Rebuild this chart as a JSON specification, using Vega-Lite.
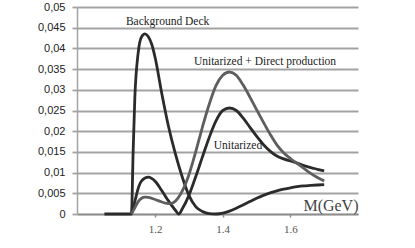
{
  "$schema": "https://vega.github.io/schema/vega-lite/v6.json",
  "width": 281,
  "height": 207,
  "autosize": "none",
  "padding": {"left": 77, "top": 7, "right": 57, "bottom": 34},
  "background": "white",
  "config": {"view": {"stroke": null}},
  "datasets": {
    "curves": [
      {"M": 1.05, "value": 0, "series": "Background Deck"},
      {"M": 1.13, "value": 0, "series": "Background Deck"},
      {"M": 1.135, "value": 0.015, "series": "Background Deck"},
      {"M": 1.14, "value": 0.028, "series": "Background Deck"},
      {"M": 1.15, "value": 0.039, "series": "Background Deck"},
      {"M": 1.16, "value": 0.0428, "series": "Background Deck"},
      {"M": 1.17, "value": 0.0435, "series": "Background Deck"},
      {"M": 1.18, "value": 0.0428, "series": "Background Deck"},
      {"M": 1.19, "value": 0.041, "series": "Background Deck"},
      {"M": 1.2, "value": 0.0378, "series": "Background Deck"},
      {"M": 1.22, "value": 0.029, "series": "Background Deck"},
      {"M": 1.24, "value": 0.021, "series": "Background Deck"},
      {"M": 1.26, "value": 0.0145, "series": "Background Deck"},
      {"M": 1.28, "value": 0.009, "series": "Background Deck"},
      {"M": 1.3, "value": 0.0045, "series": "Background Deck"},
      {"M": 1.32, "value": 0.0018, "series": "Background Deck"},
      {"M": 1.34, "value": 0.0006, "series": "Background Deck"},
      {"M": 1.36, "value": 0.0001, "series": "Background Deck"},
      {"M": 1.38, "value": 0.0, "series": "Background Deck"},
      {"M": 1.4, "value": 0.0002, "series": "Background Deck"},
      {"M": 1.42, "value": 0.0007, "series": "Background Deck"},
      {"M": 1.44, "value": 0.0014, "series": "Background Deck"},
      {"M": 1.46, "value": 0.0022, "series": "Background Deck"},
      {"M": 1.48, "value": 0.003, "series": "Background Deck"},
      {"M": 1.5, "value": 0.0038, "series": "Background Deck"},
      {"M": 1.52, "value": 0.0045, "series": "Background Deck"},
      {"M": 1.54, "value": 0.0051, "series": "Background Deck"},
      {"M": 1.56, "value": 0.0056, "series": "Background Deck"},
      {"M": 1.58, "value": 0.006, "series": "Background Deck"},
      {"M": 1.6, "value": 0.0063, "series": "Background Deck"},
      {"M": 1.62, "value": 0.0066, "series": "Background Deck"},
      {"M": 1.64, "value": 0.0068, "series": "Background Deck"},
      {"M": 1.66, "value": 0.0069, "series": "Background Deck"},
      {"M": 1.68, "value": 0.007, "series": "Background Deck"},
      {"M": 1.7, "value": 0.0071, "series": "Background Deck"},

      {"M": 1.13, "value": 0, "series": "Unitarized"},
      {"M": 1.14, "value": 0.003, "series": "Unitarized"},
      {"M": 1.15, "value": 0.0062, "series": "Unitarized"},
      {"M": 1.16, "value": 0.008, "series": "Unitarized"},
      {"M": 1.18, "value": 0.0089, "series": "Unitarized"},
      {"M": 1.2, "value": 0.0079, "series": "Unitarized"},
      {"M": 1.22, "value": 0.0056, "series": "Unitarized"},
      {"M": 1.24, "value": 0.0031, "series": "Unitarized"},
      {"M": 1.26, "value": 0.0009, "series": "Unitarized"},
      {"M": 1.27, "value": 0.0, "series": "Unitarized"},
      {"M": 1.28, "value": 0.0012, "series": "Unitarized"},
      {"M": 1.3, "value": 0.0045, "series": "Unitarized"},
      {"M": 1.32, "value": 0.009, "series": "Unitarized"},
      {"M": 1.34, "value": 0.0138, "series": "Unitarized"},
      {"M": 1.36, "value": 0.0185, "series": "Unitarized"},
      {"M": 1.38, "value": 0.0225, "series": "Unitarized"},
      {"M": 1.4, "value": 0.025, "series": "Unitarized"},
      {"M": 1.42, "value": 0.0256, "series": "Unitarized"},
      {"M": 1.44, "value": 0.025, "series": "Unitarized"},
      {"M": 1.46, "value": 0.0232, "series": "Unitarized"},
      {"M": 1.48, "value": 0.021, "series": "Unitarized"},
      {"M": 1.5, "value": 0.0188, "series": "Unitarized"},
      {"M": 1.52, "value": 0.0168, "series": "Unitarized"},
      {"M": 1.54, "value": 0.0152, "series": "Unitarized"},
      {"M": 1.56, "value": 0.014, "series": "Unitarized"},
      {"M": 1.58, "value": 0.0133, "series": "Unitarized"},
      {"M": 1.6, "value": 0.0128, "series": "Unitarized"},
      {"M": 1.62, "value": 0.0123, "series": "Unitarized"},
      {"M": 1.64, "value": 0.0117, "series": "Unitarized"},
      {"M": 1.66, "value": 0.0112, "series": "Unitarized"},
      {"M": 1.68, "value": 0.0108, "series": "Unitarized"},
      {"M": 1.7, "value": 0.0104, "series": "Unitarized"},

      {"M": 1.13, "value": 0, "series": "Unitarized + Direct production"},
      {"M": 1.14, "value": 0.0015, "series": "Unitarized + Direct production"},
      {"M": 1.15, "value": 0.003, "series": "Unitarized + Direct production"},
      {"M": 1.16, "value": 0.0038, "series": "Unitarized + Direct production"},
      {"M": 1.17, "value": 0.0041, "series": "Unitarized + Direct production"},
      {"M": 1.18, "value": 0.004, "series": "Unitarized + Direct production"},
      {"M": 1.2, "value": 0.0035, "series": "Unitarized + Direct production"},
      {"M": 1.22, "value": 0.0029, "series": "Unitarized + Direct production"},
      {"M": 1.24, "value": 0.0025, "series": "Unitarized + Direct production"},
      {"M": 1.25, "value": 0.0026, "series": "Unitarized + Direct production"},
      {"M": 1.26, "value": 0.0031, "series": "Unitarized + Direct production"},
      {"M": 1.28, "value": 0.0055, "series": "Unitarized + Direct production"},
      {"M": 1.3, "value": 0.0095, "series": "Unitarized + Direct production"},
      {"M": 1.32, "value": 0.015, "series": "Unitarized + Direct production"},
      {"M": 1.34, "value": 0.021, "series": "Unitarized + Direct production"},
      {"M": 1.36, "value": 0.0265, "series": "Unitarized + Direct production"},
      {"M": 1.38, "value": 0.031, "series": "Unitarized + Direct production"},
      {"M": 1.4, "value": 0.0335, "series": "Unitarized + Direct production"},
      {"M": 1.42, "value": 0.0343, "series": "Unitarized + Direct production"},
      {"M": 1.44, "value": 0.0335, "series": "Unitarized + Direct production"},
      {"M": 1.46, "value": 0.0312, "series": "Unitarized + Direct production"},
      {"M": 1.48, "value": 0.0283, "series": "Unitarized + Direct production"},
      {"M": 1.5, "value": 0.0252, "series": "Unitarized + Direct production"},
      {"M": 1.52, "value": 0.0222, "series": "Unitarized + Direct production"},
      {"M": 1.54, "value": 0.0193, "series": "Unitarized + Direct production"},
      {"M": 1.56, "value": 0.0167, "series": "Unitarized + Direct production"},
      {"M": 1.58, "value": 0.0148, "series": "Unitarized + Direct production"},
      {"M": 1.6, "value": 0.0134, "series": "Unitarized + Direct production"},
      {"M": 1.62, "value": 0.0122, "series": "Unitarized + Direct production"},
      {"M": 1.64, "value": 0.011, "series": "Unitarized + Direct production"},
      {"M": 1.66, "value": 0.0098, "series": "Unitarized + Direct production"},
      {"M": 1.68, "value": 0.0088, "series": "Unitarized + Direct production"},
      {"M": 1.7, "value": 0.008, "series": "Unitarized + Direct production"}
    ],
    "labels": [
      {"M": 1.237, "value": 0.0464, "label": "Background Deck"},
      {"M": 1.525, "value": 0.0367, "label": "Unitarized + Direct production"},
      {"M": 1.445, "value": 0.0164, "label": "Unitarized"}
    ]
  },
  "encoding": {
    "x": {
      "field": "M", "type": "quantitative",
      "scale": {"domain": [0.969, 1.8], "nice": false, "zero": false},
      "axis": {
        "values": [1.2, 1.4, 1.6],
        "grid": false,
        "domainColor": "#8c8c8c", "domainWidth": 1.5,
        "tickColor": "#8c8c8c", "tickSize": 3, "tickWidth": 1.5,
        "labelFont": "Liberation Serif", "labelFontSize": 11, "labelColor": "#555555",
        "labelPadding": 6,
        "format": ".1f",
        "title": "M(GeV)",
        "titleFont": "Liberation Serif", "titleFontSize": 16, "titleFontWeight": "normal",
        "titleColor": "#444444",
        "titleAnchor": "end", "titleAlign": "right", "titleX": 281, "titleY": -4,
        "titleBaseline": "alphabetic"
      }
    },
    "y": {
      "field": "value", "type": "quantitative",
      "scale": {"domain": [0, 0.05], "nice": false},
      "axis": {
        "values": [0, 0.005, 0.01, 0.015, 0.02, 0.025, 0.03, 0.035, 0.04, 0.045, 0.05],
        "labelExpr": "replace(format(datum.value, ''), '.', ',')",
        "labelOverlap": false,
        "grid": true, "gridColor": "#a3a3a3", "gridWidth": 1.8,
        "domainColor": "#a3a3a3", "domainWidth": 1.5,
        "tickColor": "#a3a3a3", "tickSize": 5, "tickWidth": 1.8,
        "labelFont": "Liberation Sans", "labelFontSize": 11, "labelColor": "#222222",
        "labelPadding": 7,
        "title": null
      }
    }
  },
  "layer": [
    {
      "data": {"name": "curves"},
      "mark": {"type": "line", "strokeWidth": 2.8, "interpolate": "monotone"},
      "encoding": {
        "color": {
          "field": "series", "type": "nominal",
          "scale": {
            "domain": ["Background Deck", "Unitarized", "Unitarized + Direct production"],
            "range": ["#2b2b2b", "#2b2b2b", "#5e5e5e"]
          },
          "legend": null
        }
      }
    },
    {
      "data": {"name": "labels"},
      "mark": {"type": "text", "font": "Liberation Serif", "fontSize": 11.5, "color": "#222222"},
      "encoding": {
        "text": {"field": "label"}
      }
    }
  ]
}
